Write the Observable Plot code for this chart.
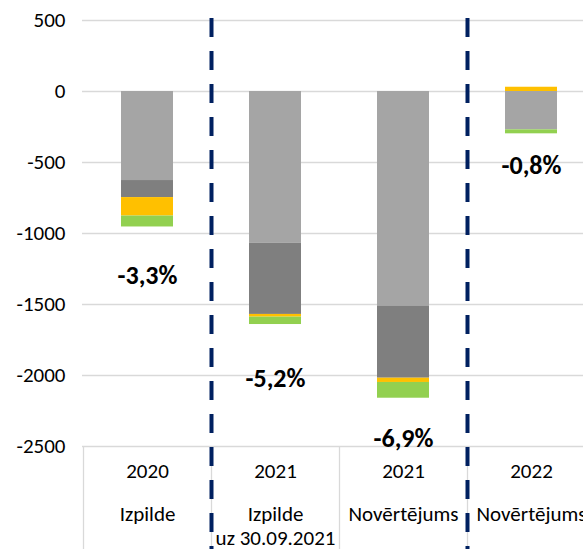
<!DOCTYPE html>
<html>
<head>
<meta charset="utf-8">
<script src="https://cdn.jsdelivr.net/npm/d3@7"></script>
<script src="https://cdn.jsdelivr.net/npm/@observablehq/plot@0.6"></script>
<style>
  html, body { margin: 0; padding: 0; background: #fff; overflow: hidden; }
  #chart { width: 583px; height: 549px; }
  svg { font-family: Carlito, Lato, "Liberation Sans", sans-serif; }
</style>
</head>
<body>
<div id="chart"></div>
<script>
// Categories
const categories = ["2020 Izpilde", "2021 Izpilde uz 30.09.2021", "2021 Novērtējums", "2022 Novērtējums"];
const years = ["2020", "2021", "2021", "2022"];
const descriptions = ["Izpilde", "Izpilde\nuz 30.09.2021", "Novērtējums", "Novērtējums"];

// Series values (stack order: light grey, dark grey, yellow, green)
const seriesNames = ["A", "B", "C", "D"];
const seriesA = [-627, -1068, -1514, -270];
const seriesB = [-120, -502, -505, 0];
const seriesC = [-130, -19, -30, 30];
const seriesD = [-77, -52, -111, -28];

// Percent labels and their anchor values
const pctLabels = ["-3,3%", "-5,2%", "-6,9%", "-0,8%"];
const pctAt = [-1296, -2021, -2444, -521];

// Axis ticks
const yTicks = [500, 0, -500, -1000, -1500, -2000, -2500];
const tableBottom = -3300;

const colors = ["#a5a5a5", "#7f7f7f", "#ffc000", "#92d050"];
const allSeries = [seriesA, seriesB, seriesC, seriesD];
const rows = [];
categories.forEach((c, i) => {
  allSeries.forEach((s, k) => rows.push({cat: c, series: seriesNames[k], value: s[i]}));
});

const LEFT = 83, RIGHT = 595, STEP = (RIGHT - LEFT) / categories.length;
const fontFam = "Carlito, Lato, 'Liberation Sans', sans-serif";

const chart = Plot.plot({
  width: 583,
  height: 549,
  marginTop: 18,
  marginBottom: 0,
  marginLeft: 82,
  marginRight: 0,
  style: {fontFamily: fontFam, background: "#fff", color: "#000"},
  x: {domain: categories, range: [LEFT, RIGHT], paddingInner: 0.594, paddingOuter: 0.297, axis: null},
  y: {domain: [-2500, 500], range: [446, 20], axis: null},
  color: {domain: seriesNames, range: colors},
  marks: [
    Plot.gridY(yTicks, {stroke: "#d9d9d9", strokeOpacity: 1, strokeWidth: 1.3}),
    Plot.ruleX(categories, {x: d => d, dx: -STEP / 2, y1: -2500, y2: tableBottom, stroke: "#d9d9d9", strokeWidth: 1.3}),
    Plot.barY(rows, {x: "cat", y: "value", fill: "series"}),
    Plot.axisY(yTicks, {anchor: "left", label: null, tickSize: 0, tickPadding: 17, fontSize: 21, fill: "#000", tickFormat: d => String(d)}),
    Plot.text(categories, {x: d => d, y: -2500, dy: 25, text: (d, i) => years[i], fontSize: 21, fill: "#000"}),
    Plot.text(categories, {x: d => d, y: -2500, dy: 58, text: (d, i) => descriptions[i], lineAnchor: "top", lineHeight: 1.12, fontSize: 21, fill: "#000"}),
    Plot.text(categories, {x: d => d, y: (d, i) => pctAt[i], text: (d, i) => pctLabels[i], fontSize: 26, fontWeight: "bold", fill: "#000"}),
    Plot.ruleX([categories[1], categories[3]], {x: d => d, dx: -STEP / 2, stroke: "#002060", strokeWidth: 4, strokeDasharray: "19,14"})
  ]
});
document.getElementById("chart").appendChild(chart);
</script>
</body>
</html>
